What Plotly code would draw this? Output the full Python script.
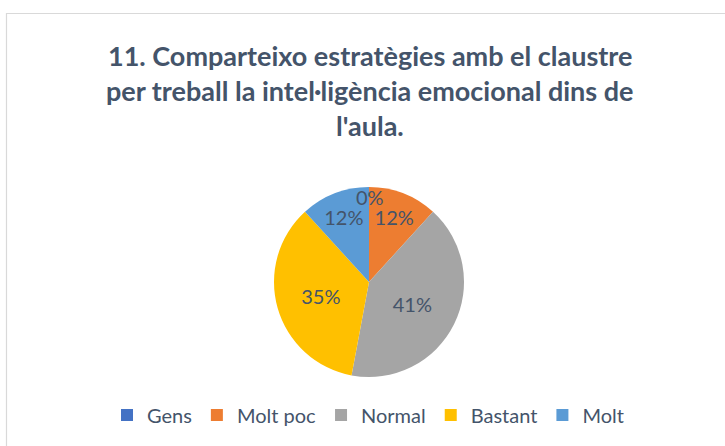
import plotly.graph_objects as go

categories = ["Gens", "Molt poc", "Normal", "Bastant", "Molt"]
respostes = [0, 2, 7, 6, 2]
colors = ["#4472C4", "#ED7D31", "#A5A5A5", "#FFC000", "#5B9BD5"]
title_lines = [
    "11. Comparteixo estratègies amb el claustre",
    "per treball la intel·ligència emocional dins de",
    "l'aula.",
]

W, H = 725, 446
TXT = "#44546A"
FONT = "Lato, Open Sans, sans-serif"


def px_x(x):
    return x / W


def px_y(y):
    return (H - y) / H


# pie geometry (pixels)
cx, cy, r = 369, 282, 95

fig = go.Figure(go.Pie(
    labels=categories, values=respostes,
    marker=dict(colors=colors, line=dict(width=0)),
    sort=False, direction="clockwise", rotation=0,
    texttemplate="%{percent:.0%}", textposition="inside",
    insidetextorientation="horizontal",
    textfont=dict(size=20, color=TXT, family=FONT),
    domain=dict(x=[px_x(cx - r), px_x(cx + r)], y=[px_y(cy + r), px_y(cy - r)]),
    hoverinfo="label+percent",
))

# the zero slice has no visible wedge, so put its label at the top of the pie
total = sum(respostes)
fig.add_annotation(
    x=px_x(cx + 1), y=px_y(cy - r + 10), xref="paper", yref="paper",
    xanchor="center", yanchor="middle",
    text=f"{respostes[0] / total:.0%}", showarrow=False,
    font=dict(size=20, color=TXT, family=FONT),
)

for i, line in enumerate(title_lines):
    fig.add_annotation(
        x=px_x(370), y=px_y(55 + 35 * i), xref="paper", yref="paper",
        xanchor="center", yanchor="middle",
        text=f"<b>{line}</b>", showarrow=False,
        font=dict(size=27, color=TXT, family=FONT),
    )

# chart area border
fig.add_shape(type="rect", xref="paper", yref="paper",
              x0=px_x(6.5), x1=1.05, y0=-0.05, y1=px_y(13.5),
              line=dict(color="#D9D9D9", width=1.2), fillcolor="rgba(0,0,0,0)")

fig.update_layout(
    width=W, height=H,
    margin=dict(l=0, r=0, t=0, b=0),
    paper_bgcolor="white",
    showlegend=True,
    legend=dict(orientation="h", x=px_x(368), xanchor="center", y=px_y(415), yanchor="middle",
                font=dict(size=20, color=TXT, family=FONT), itemclick=False),
)

fig.write_html("out.html", config={"displayModeBar": False},
               post_script="document.body.style.margin='0px';")
